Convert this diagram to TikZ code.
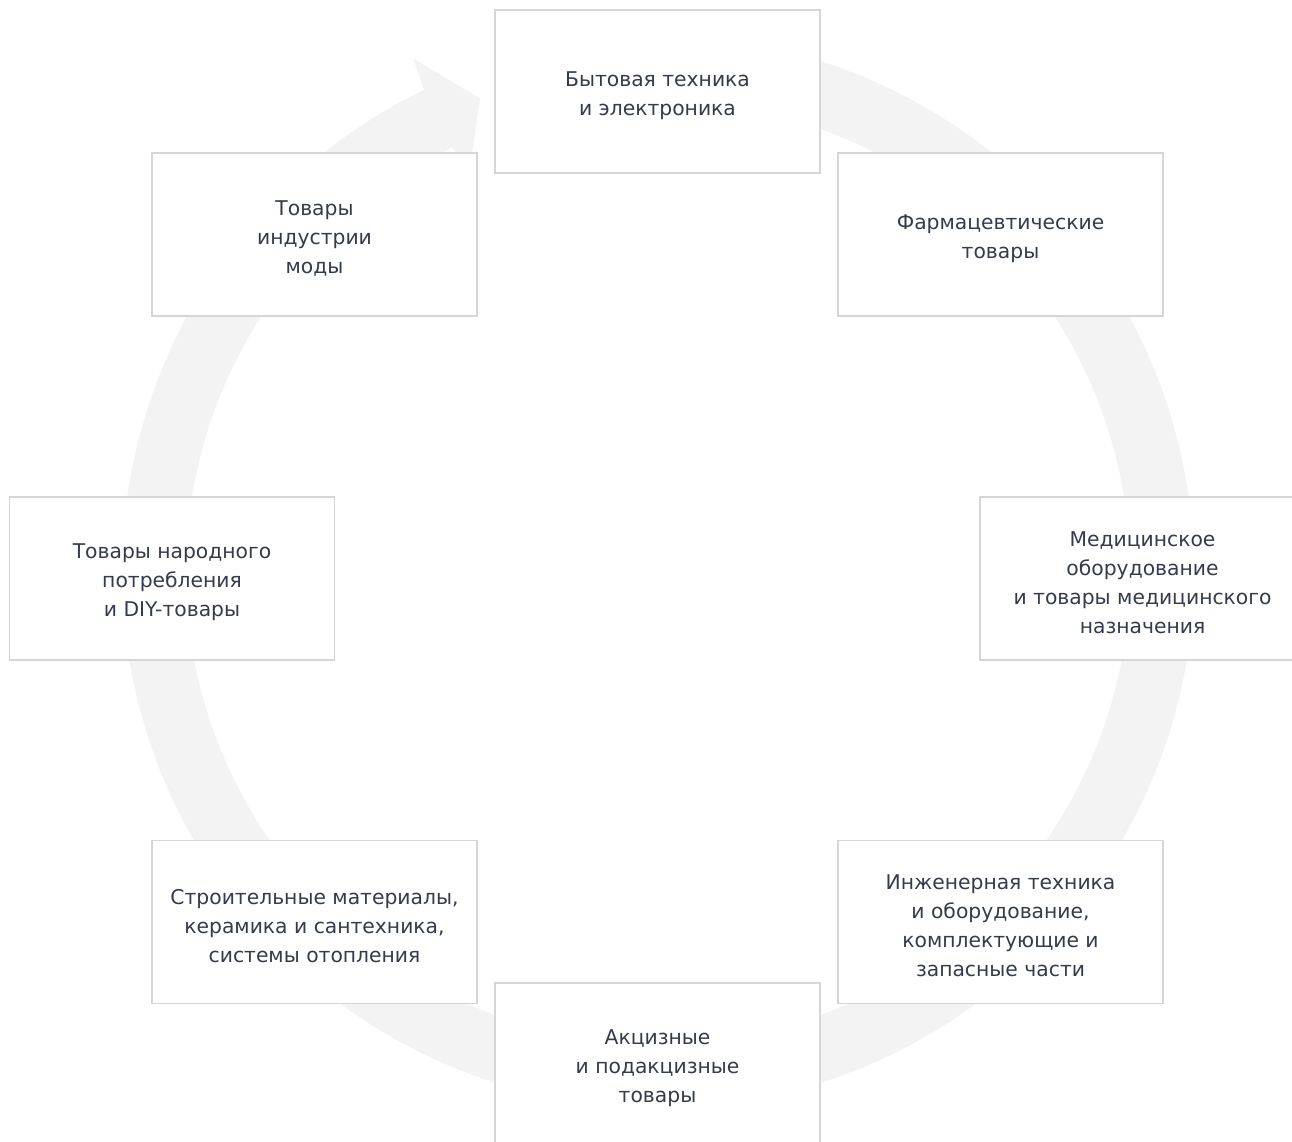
\documentclass[tikz,border=0pt]{standalone}
\usepackage{fontspec}
\setmainfont{DejaVu Sans}
\usetikzlibrary{calc}
\definecolor{ringc}{HTML}{F3F3F3}
\definecolor{boxline}{HTML}{D6D6D6}
\definecolor{txt}{HTML}{343B4C}
\newcommand{\tpad}{\rule{0pt}{23pt}}
\begin{document}
\begin{tikzpicture}[x=1pt,y=1pt,
  cat/.style={draw=boxline, line width=1.6pt, fill=white, minimum width=325pt, minimum height=163pt,
    align=center, text=txt, font=\fontsize{20.3}{29}\selectfont, inner sep=0pt}]
\useasboundingbox (0,0) rectangle (1292,1142);
\coordinate (C) at (658,570);
% ring with arrow
\fill[ringc] ($(C)+(104:536)$) arc[start angle=104,end angle=-244.15,radius=536]
  -- ($(C)+(115.5:569)$) -- ($(C)+(110.6:506)$) -- ($(C)+(115.5:439)$)
  -- ($(C)+(115.85:472)$) arc[start angle=115.85,end angle=464,radius=472] -- cycle;
% boxes
\node[cat] (n1) at (657.5,1050.5) {\tpad Бытовая техника\\и электроника};
\node[cat] (n2) at (1000.5,907.5) {\tpad Фармацевтические\\товары};
\node[cat] (n3) at (1142.5,563.5) {\tpad Медицинское\\оборудование\\и товары медицинского\\назначения};
\node[cat] (n4) at (1000.5,220) {\tpad Инженерная техника\\и оборудование,\\комплектующие и\\запасные части};
\node[cat] (n5) at (657.5,77.5) {\tpad Акцизные\\и подакцизные\\товары};
\node[cat] (n6) at (314.5,220) {\tpad Строительные материалы,\\керамика и сантехника,\\системы отопления};
\node[cat] (n7) at (172,563.5) {\tpad Товары народного\\потребления\\и DIY-товары};
\node[cat] (n8) at (314.5,907.5) {\tpad Товары\\индустрии\\моды};
\end{tikzpicture}
\end{document}
